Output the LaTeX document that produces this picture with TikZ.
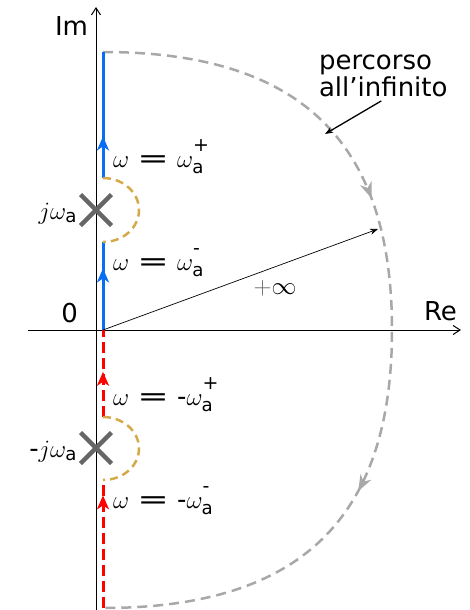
\documentclass[tikz,border=0pt]{standalone}
\usepackage{fontspec}
\setmainfont{DejaVu Sans}
\usepackage{amsmath}
\usepackage{graphicx}
\usetikzlibrary{arrows.meta, decorations.markings, shapes.misc}
\definecolor{pathblue}{HTML}{0A6EF5}
\definecolor{pathred}{HTML}{FF0000}
\definecolor{pathgold}{HTML}{D4A94A}
\definecolor{arcgray}{HTML}{A8A8A8}
\definecolor{polegray}{HTML}{666666}
\newcommand{\eqs}{\scalebox{1.45}[1]{=}}
\newcommand{\supsign}[1]{\raisebox{6pt}{\fontsize{19}{19}\selectfont #1}}

\begin{document}
\begin{tikzpicture}[
        x=1pt, y=-1pt,
        font=\fontsize{26}{27}\selectfont,
        every node/.style={inner sep=0pt, outer sep=0pt},
        axis/.style={black, line width=1pt, -{Straight Barb[length=7pt, width=9pt]}},
        bluepath/.style={pathblue, line width=3pt},
        redpath/.style={pathred, line width=3pt, dash pattern=on 11pt off 5pt},
        goldpath/.style={pathgold, line width=2.5pt, dash pattern=on 8pt off 5pt},
        arcpath/.style={arcgray, line width=2.5pt, dash pattern=on 10pt off 6pt},
        midarrow/.style={postaction={decorate}, decoration={markings,
                mark=at position #1 with {\arrow{Stealth[length=14pt, width=12pt, inset=4pt]}}}},
        pole/.style={cross out, draw=polegray, line width=4.5pt, minimum size=31pt},
        thinarrow/.style={black, line width=0.9pt, -{Stealth[length=8pt, width=6pt]}},
        wlabel/.style={anchor=base west}
    ]
        \useasboundingbox (0,0) rectangle (470,610);

        % axes
        \coordinate (reL) at (28,330);
        \coordinate (reR) at (461,330);
        \coordinate (imB) at (96,610);
        \coordinate (imT) at (96,7);
        \draw[axis] (reL) -- (reR);
        \draw[axis] (imB) -- (imT);
        \node[anchor=base east] (im) at (88,36) {Im};
        \node[anchor=base west] (re) at (424,320) {Re};
        \node[anchor=base east] (zero) at (78,322) {0};

        % contour points
        \coordinate (p0) at (103,330);
        \coordinate (pa1) at (103,242);
        \coordinate (pa2) at (103,178);
        \coordinate (ptop) at (103,52);
        \coordinate (pb1) at (103,417);
        \coordinate (pb2) at (103,480);
        \coordinate (pbot) at (103,608);
        \coordinate (pR) at (392,330);

        % path at infinity
        \draw[arcpath, postaction={decorate}, decoration={markings,
                mark=at position 0.355 with {\arrow{Stealth[length=16pt, width=12pt, inset=5pt]}},
                mark=at position 0.68 with {\arrow{Stealth[length=16pt, width=12pt, inset=5pt]}}}]
            (ptop) .. controls (300,52) and (392,141) .. (pR)
                   .. controls (392,519) and (300,608) .. (pbot);

        % imaginary axis path
        \draw[bluepath, midarrow=0.7] (p0) -- (pa1);
        \draw[bluepath, midarrow=0.33] (pa2) -- (ptop);
        \draw[redpath, midarrow=0.52] (pb1) -- (p0);
        \draw[redpath, midarrow=0.88] (pbot) -- (pb2);
        \draw[goldpath] (pa2) arc[start angle=-90, end angle=90, x radius=36, y radius=32];
        \draw[goldpath] (pb1) arc[start angle=-90, end angle=90, x radius=36, y radius=31.5];

        % poles
        \node[pole] (xa) at (96,210) {};
        \node[pole] (xb) at (96,448) {};
        \node[anchor=base east] (ja) at (77,219) {$j\omega_{\text{a}}$};
        \node[anchor=base east] (mja) at (77,457) {-$j\omega_{\text{a}}$};

        \node[wlabel] (wa1) at (113,167) {$\omega$ \eqs{} $\omega^{\supsign{+}}_{\text{a}}$};
        \node[wlabel] (wa0) at (113,270) {$\omega$ \eqs{} $\omega^{\supsign{-}}_{\text{a}}$};
        \node[wlabel] (wb1) at (113,405) {$\omega$ \eqs{} -$\omega^{\supsign{+}}_{\text{a}}$};
        \node[wlabel] (wb0) at (113,508) {$\omega$ \eqs{} -$\omega^{\supsign{-}}_{\text{a}}$};

        % radius
        \coordinate (rinf) at (378,229);
        \draw[thinarrow, line width=0.7pt] (p0) -- (rinf);
        \node (inf) at (275,288) {\textcolor{black!60}{$+$}$\infty$};

        % label of the arc
        \node[anchor=north west, align=left] (lbl) at (319,55) {percorso\\all’infinito};
        \coordinate (arcpt) at (325,134);
        \draw[thinarrow, line width=1.3pt] ([xshift=-2pt, yshift=-4pt]lbl.south) -- (arcpt);
    \end{tikzpicture}
\end{document}
